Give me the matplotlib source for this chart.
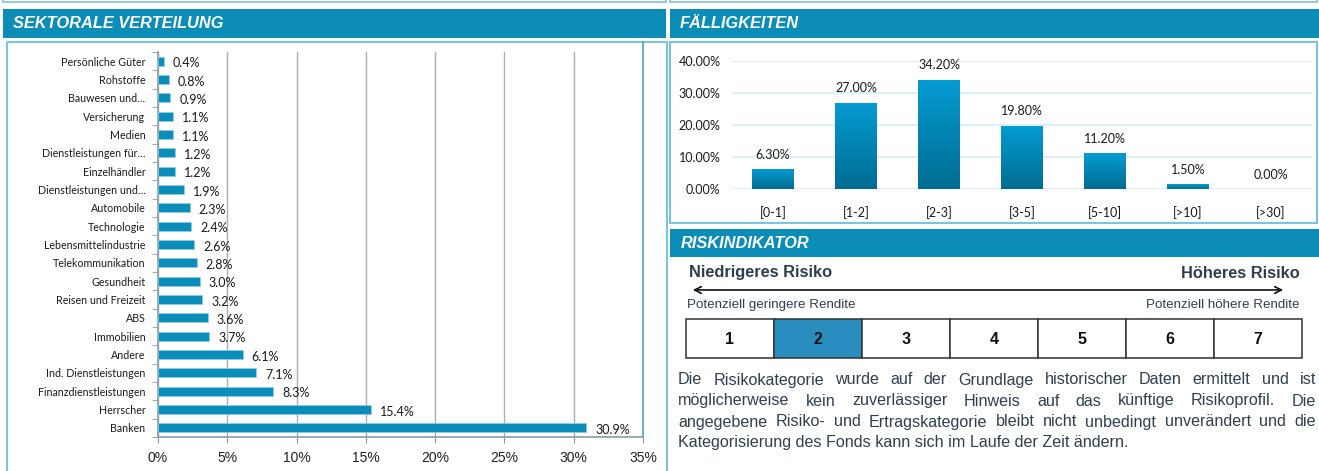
import matplotlib
matplotlib.use('Agg')
import matplotlib.pyplot as plt
import numpy as np
from matplotlib.patches import Rectangle, FancyArrowPatch
from matplotlib.colors import LinearSegmentedColormap

W, H = 1319, 471

# ---------------- data ----------------
sectors = ['Persönliche Güter', 'Rohstoffe', 'Bauwesen und…', 'Versicherung', 'Medien',
           'Dienstleistungen für…', 'Einzelhändler', 'Dienstleistungen und…', 'Automobile',
           'Technologie', 'Lebensmittelindustrie', 'Telekommunikation', 'Gesundheit',
           'Reisen und Freizeit', 'ABS', 'Immobilien', 'Andere', 'Ind. Dienstleistungen',
           'Finanzdienstleistungen', 'Herrscher', 'Banken']
sector_values = [0.4, 0.8, 0.9, 1.1, 1.1, 1.2, 1.2, 1.9, 2.3, 2.4, 2.6, 2.8, 3.0, 3.2,
                 3.6, 3.7, 6.1, 7.1, 8.3, 15.4, 30.9]
sector_ticks = [0, 5, 10, 15, 20, 25, 30, 35]

maturity_labels = ['[0-1]', '[1-2]', '[2-3]', '[3-5]', '[5-10]', '[>10]', '[>30]']
maturity_values = [6.30, 27.00, 34.20, 19.80, 11.20, 1.50, 0.00]
maturity_ticks = [0, 10, 20, 30, 40]

risk_classes = [1, 2, 3, 4, 5, 6, 7]
risk_selected = 2

title_left = 'SEKTORALE VERTEILUNG'
title_right = 'FÄLLIGKEITEN'
title_risk = 'RISKINDIKATOR'
risk_low = 'Niedrigeres Risiko'
risk_high = 'Höheres Risiko'
ret_low = 'Potenziell geringere Rendite'
ret_high = 'Potenziell höhere Rendite'
paragraph = ['Die Risikokategorie wurde auf der Grundlage historischer Daten ermittelt und ist',
             'möglicherweise kein zuverlässiger Hinweis auf das künftige Risikoprofil. Die',
             'angegebene Risiko- und Ertragskategorie bleibt nicht unbedingt unverändert und die',
             'Kategorisierung des Fonds kann sich im Laufe der Zeit ändern.']

# ---------------- style ----------------
HEAD = '#0B8DB8'
BOXE = '#7CC3DD'
BAR = '#0A8DB8'
TXT = '#2E3F50'
CHART_FONT = ['Lato', 'DejaVu Sans']
ARIAL = ['Liberation Sans', 'DejaVu Sans']

fig = plt.figure(figsize=(W / 100, H / 100), dpi=100)


def rect(x0, y0, x1, y1):
    return [x0 / W, 1 - y1 / H, (x1 - x0) / W, (y1 - y0) / H]


bg = fig.add_axes([0, 0, 1, 1], zorder=0)
bg.set_xlim(0, W)
bg.set_ylim(H, 0)
bg.axis('off')

# previous section bottom edges
bg.add_patch(Rectangle((3, -10), 663, 11.5, fill=False, ec=BOXE, lw=1.2))
bg.add_patch(Rectangle((670, -10), 647, 11.5, fill=False, ec=BOXE, lw=1.2))

# header bars
bg.add_patch(Rectangle((3, 9), 663, 29, fc=HEAD, ec='none'))
bg.add_patch(Rectangle((670, 9), 649, 29, fc=HEAD, ec='none'))
bg.add_patch(Rectangle((670, 229), 649, 28, fc=HEAD, ec='none'))
hkw = dict(color='white', fontweight='bold', fontstyle='italic', family=ARIAL,
           fontsize=11.8, va='center', ha='left')
bg.text(13, 24, title_left, **hkw)
bg.text(680, 24, title_right, **hkw)
bg.text(681, 243, title_risk, **hkw)

# boxes
bg.add_patch(Rectangle((7, 42), 660, 440, fill=False, ec=BOXE, lw=1.5))
bg.plot([643, 643], [42, 437], color='#3FA5D0', lw=1.2)
bg.add_patch(Rectangle((670, 42), 647, 181, fill=False, ec=BOXE, lw=1.5))

# ---------------- left chart ----------------
ax1 = fig.add_axes(rect(158, 52, 643, 437), zorder=2)
ax1.set_facecolor('none')
ypos = np.arange(len(sectors))
bars = ax1.barh(ypos, sector_values, height=0.5, color=BAR, edgecolor='#8FD0E6', lw=0.5, zorder=3)
for y, v in zip(ypos, sector_values):
    ax1.annotate(f'{v:.1f}%', (v, y), xytext=(6.5, -1.5), textcoords='offset points',
                 ha='left', va='center', fontsize=9, family=CHART_FONT, color='#1a1a1a')
ax1.set_ylim(len(sectors) - 0.5, -0.5)
ax1.set_xlim(0, 35)
ax1.set_yticks(ypos)
ax1.set_yticklabels(sectors, family=CHART_FONT, fontsize=7.7, color='#1a1a1a')
ax1.set_yticks(np.arange(len(sectors) + 1) - 0.5, minor=True)
ax1.tick_params(axis='y', which='major', length=0, pad=9)
ax1.tick_params(axis='y', which='minor', length=4, color='#8C9BA5', direction='out')
ax1.set_xticks(sector_ticks)
ax1.set_xticklabels([f'{t}%' for t in sector_ticks], family=ARIAL, fontsize=10, color='#222222')
ax1.tick_params(axis='x', length=4, color='#8C9BA5', pad=6)
ax1.grid(axis='x', color='#A7AFB6', lw=1, zorder=0)
ax1.set_axisbelow(True)
for s in ['top', 'right']:
    ax1.spines[s].set_visible(False)
for s in ['left', 'bottom']:
    ax1.spines[s].set_color('#8C9BA5')
    ax1.spines[s].set_linewidth(1.2)

# ---------------- right chart ----------------
ax2 = fig.add_axes(rect(731.5, 61, 1312.5, 189), zorder=2)
ax2.set_facecolor('none')
xpos = np.arange(len(maturity_labels))
bars2 = ax2.bar(xpos, maturity_values, width=0.5, color='none', zorder=3)
cmap = LinearSegmentedColormap.from_list('g', ['#006C91', '#059CD3'])
grad = np.linspace(0, 1, 256).reshape(-1, 1)
for b in bars2:
    h = b.get_height()
    if h <= 0:
        continue
    x0 = b.get_x()
    im = ax2.imshow(grad, extent=[x0, x0 + b.get_width(), 0, h], origin='lower',
                    cmap=cmap, aspect='auto', zorder=3)
    im.set_clip_path(b)
for x, v in zip(xpos, maturity_values):
    ax2.annotate(f'{v:.2f}%', (x, v), xytext=(0, 6), textcoords='offset points',
                 ha='center', va='bottom', fontsize=9, family=CHART_FONT, color='#1a1a1a')
ax2.set_xlim(-0.5, len(maturity_labels) - 0.5)
ax2.set_ylim(0, 40)
ax2.set_xticks(xpos)
ax2.set_xticklabels(maturity_labels, family=CHART_FONT, fontsize=9, color='#1a1a1a')
ax2.set_yticks(maturity_ticks)
ax2.set_yticklabels([f'{t:.2f}%' for t in maturity_ticks], family=CHART_FONT, fontsize=9,
                    color='#1a1a1a')
ax2.tick_params(axis='x', length=0, pad=12)
ax2.tick_params(axis='y', length=0, pad=8)
ax2.grid(axis='y', color='#D3ECF7', lw=1.2, zorder=0)
ax2.set_axisbelow(True)
for s in ax2.spines.values():
    s.set_visible(False)

# ---------------- risk indicator ----------------
bg.text(689, 273, risk_low, family=ARIAL, fontweight='bold', fontsize=11.8, color=TXT,
        ha='left', va='center')
bg.text(1300, 273, risk_high, family=ARIAL, fontweight='bold', fontsize=11.8, color=TXT,
        ha='right', va='center')
bg.add_patch(FancyArrowPatch((690, 290), (1286, 290), arrowstyle='<->', mutation_scale=12,
                             color='#111111', lw=1.2))
bg.text(687, 305, ret_low, family=ARIAL, fontsize=9.6, color=TXT, ha='left', va='center')
bg.text(1300, 305, ret_high, family=ARIAL, fontsize=9.6, color=TXT, ha='right', va='center')

cx0, cx1, cy0, cy1 = 686, 1302, 319, 358
cw = (cx1 - cx0) / len(risk_classes)
for i, r in enumerate(risk_classes):
    fc = '#2A8DC0' if r == risk_selected else 'white'
    bg.add_patch(Rectangle((cx0 + i * cw, cy0), cw, cy1 - cy0, fc=fc, ec='#333333', lw=1.1))
    bg.text(cx0 + (i + 0.5) * cw, (cy0 + cy1) / 2 + 1, str(r), family=ARIAL,
            fontweight='bold', fontsize=11.5, color='#111111', ha='center', va='center')

# justified paragraph
renderer = fig.canvas.get_renderer()
px0, px1 = 678, 1316
line_y = [380, 401, 422, 443]
pkw = dict(family=ARIAL, fontsize=11.6, color=TXT, va='center', ha='left')
for li, (line, y) in enumerate(zip(paragraph, line_y)):
    words = line.split(' ')
    if li == len(paragraph) - 1:
        bg.text(px0, y, line, **pkw)
        continue
    texts = [bg.text(0, y, w, **pkw) for w in words]
    widths = [t.get_window_extent(renderer).width for t in texts]
    gap = (px1 - px0 - sum(widths)) / (len(words) - 1)
    x = px0
    for t, wd in zip(texts, widths):
        t.set_x(x)
        x += wd + gap

fig.savefig('out.png', dpi=100)
